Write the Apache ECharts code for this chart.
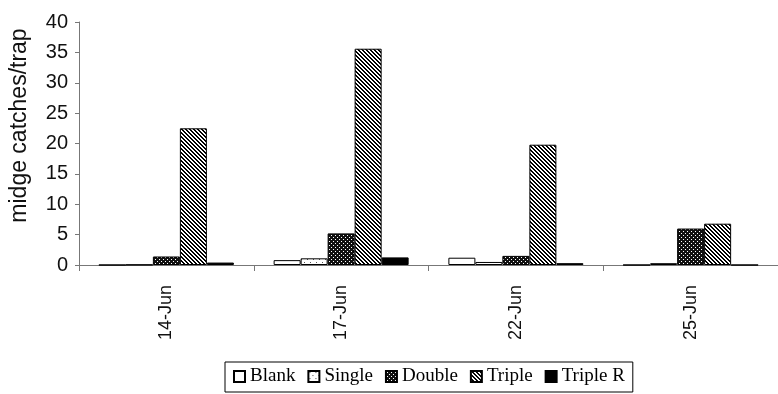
<!DOCTYPE html>
<html>
<head>
<meta charset="utf-8">
<script src="https://cdn.jsdelivr.net/npm/echarts@6/dist/echarts.min.js"></script>
<style>
  html, body { margin: 0; padding: 0; background: #fff; }
  #chart { width: 778px; height: 394px; }
</style>
</head>
<body>
<div id="chart"></div>
<script>
// Trap catch dates and mean midge catches per trap for each bait type
const categories = ['14-Jun', '17-Jun', '22-Jun', '25-Jun'];
const blank   = [0,    0.8, 1.2, 0];
const single  = [0.05, 1.1, 0.5, 0.3];
const double  = [1.4,  5.2, 1.5, 6.0];
const triple  = [22.5, 35.6, 19.8, 6.8];
const tripleR = [0.4,  1.25, 0.3, 0];
const yTicks = { min: 0, max: 40, interval: 5 };

// Small tiled canvases used as fill patterns for the bars
function makePattern(size, bg, pixels, fg) {
  const c = document.createElement('canvas');
  c.width = size; c.height = size;
  const ctx = c.getContext('2d');
  ctx.fillStyle = bg;
  ctx.fillRect(0, 0, size, size);
  ctx.fillStyle = fg;
  pixels.forEach(p => ctx.fillRect(p[0], p[1], 1, 1));
  return { image: c, repeat: 'repeat' };
}

const dotsLight = makePattern(6, '#ffffff', [[1, 1], [4, 4]], '#555555');
const dotsDark  = makePattern(4, '#111111', [[1, 1], [3, 3]], '#ffffff');
const hatch = makePattern(4, '#ffffff',
  [[0, 0], [1, 0], [1, 1], [2, 1], [2, 2], [3, 2], [3, 3], [0, 3]], '#000000');

function barSeries(name, data, fill) {
  return {
    name: name,
    type: 'bar',
    data: data,
    barWidth: 27,
    barGap: '0%',
    itemStyle: { color: fill, borderColor: '#000', borderWidth: 1 },
    emphasis: { disabled: true }
  };
}

const chart = echarts.init(document.getElementById('chart'));
chart.setOption({
  animation: false,
  backgroundColor: '#ffffff',
  grid: { left: 79, right: 0, top: 22, bottom: 129, outerBoundsMode: 'none', containLabel: false },
  legend: {
    left: 225,
    top: 362,
    orient: 'horizontal',
    padding: [5, 8, 6, 8],
    itemGap: 12,
    itemWidth: 11,
    itemHeight: 11,
    borderColor: '#000',
    borderWidth: 1,
    icon: 'rect',
    textStyle: { fontFamily: 'Liberation Serif', fontSize: 19, color: '#000' }
  },
  xAxis: {
    type: 'category',
    data: categories,
    axisLine: { lineStyle: { color: '#777', width: 1 } },
    axisTick: { show: true, length: 6, lineStyle: { color: '#777' } },
    axisLabel: {
      rotate: 90,
      margin: 20,
      fontFamily: 'Liberation Sans',
      fontSize: 18,
      color: '#111'
    }
  },
  yAxis: {
    type: 'value',
    min: yTicks.min,
    max: yTicks.max,
    interval: yTicks.interval,
    name: 'midge catches/trap',
    nameLocation: 'middle',
    nameGap: 48,
    nameTextStyle: {
      fontFamily: 'Liberation Sans',
      fontSize: 23,
      color: '#111',
      padding: [0, 0, 0, 36]
    },
    axisLine: { show: true, lineStyle: { color: '#777', width: 1 } },
    axisTick: { show: true, length: 4, lineStyle: { color: '#777' } },
    axisLabel: { margin: 11, fontFamily: 'Liberation Sans', fontSize: 20, color: '#111' },
    splitLine: { show: false }
  },
  series: [
    barSeries('Blank', blank, '#ffffff'),
    barSeries('Single', single, dotsLight),
    barSeries('Double', double, dotsDark),
    barSeries('Triple', triple, hatch),
    barSeries('Triple R', tripleR, '#000000')
  ]
});
</script>
</body>
</html>
